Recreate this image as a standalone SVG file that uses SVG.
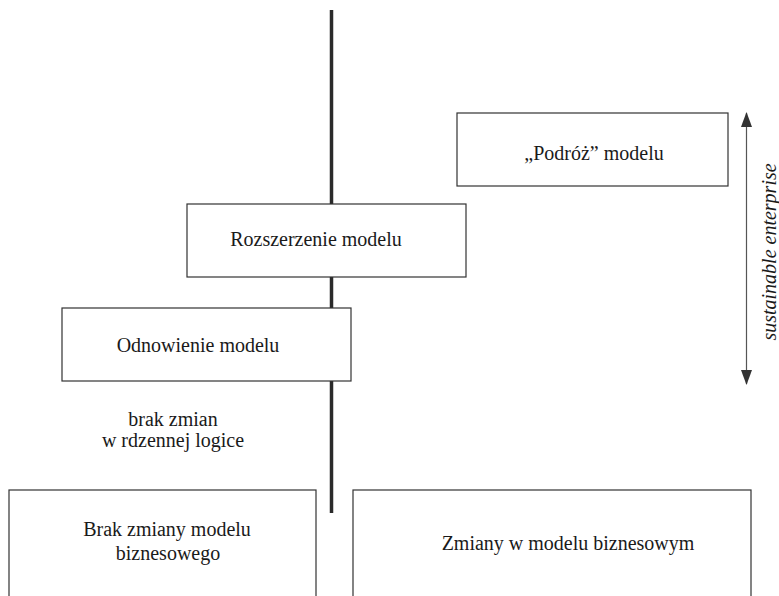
<svg xmlns="http://www.w3.org/2000/svg" width="779" height="596" viewBox="0 0 779 596">
<style>
.box{fill:#fff;stroke:#333;stroke-width:1.2}
.t{font-family:'Liberation Serif','DejaVu Serif',serif;font-size:20px;fill:#1a1a1a;text-anchor:middle}
.it{font-style:italic}
</style>
<defs>
<marker id="ah" viewBox="0 0 15 11" refX="14" refY="5.5" markerWidth="15" markerHeight="11" markerUnits="userSpaceOnUse" orient="auto-start-reverse">
<path d="M0,0 L15,5.5 L0,11 Z" fill="#333"/>
</marker>
</defs>
<rect width="779" height="596" fill="#fff"/>
<g id="connectors">
<line x1="331.5" y1="10" x2="331.5" y2="513" stroke="#2a2a2a" stroke-width="3.5"/>
<line x1="746.5" y1="113" x2="746.5" y2="384" stroke="#555" stroke-width="1.2" marker-start="url(#ah)" marker-end="url(#ah)"/>
</g>
<g id="podroz">
<rect class="box" x="457" y="113" width="271" height="73"/>
<text class="t" x="594" y="160" font-family="Liberation Serif, serif">„Podróż” modelu</text>
</g>
<g id="rozszerzenie">
<rect class="box" x="187" y="204" width="279" height="73"/>
<text class="t" x="316" y="246" font-family="Liberation Serif, serif">Rozszerzenie modelu</text>
</g>
<g id="odnowienie">
<rect class="box" x="62" y="308" width="289" height="73"/>
<text class="t" x="198" y="352" font-family="Liberation Serif, serif">Odnowienie modelu</text>
</g>
<g id="brak-zmian">
<text class="t" x="173" y="426" font-family="Liberation Serif, serif">brak zmian</text>
<text class="t" x="173" y="447" font-family="Liberation Serif, serif">w rdzennej logice</text>
</g>
<g id="sustainable">
<text class="t it" transform="translate(776,252) rotate(-90)" font-family="Liberation Serif, serif">sustainable enterprise</text>
</g>
<g id="brak-zmiany-modelu">
<rect class="box" x="9" y="490" width="307" height="130"/>
<text class="t" x="167" y="536" font-family="Liberation Serif, serif">Brak zmiany modelu</text>
<text class="t" x="168" y="560" font-family="Liberation Serif, serif">biznesowego</text>
</g>
<g id="zmiany">
<rect class="box" x="353" y="490" width="398" height="130"/>
<text class="t" x="568" y="550" font-family="Liberation Serif, serif">Zmiany w modelu biznesowym</text>
</g>
</svg>
